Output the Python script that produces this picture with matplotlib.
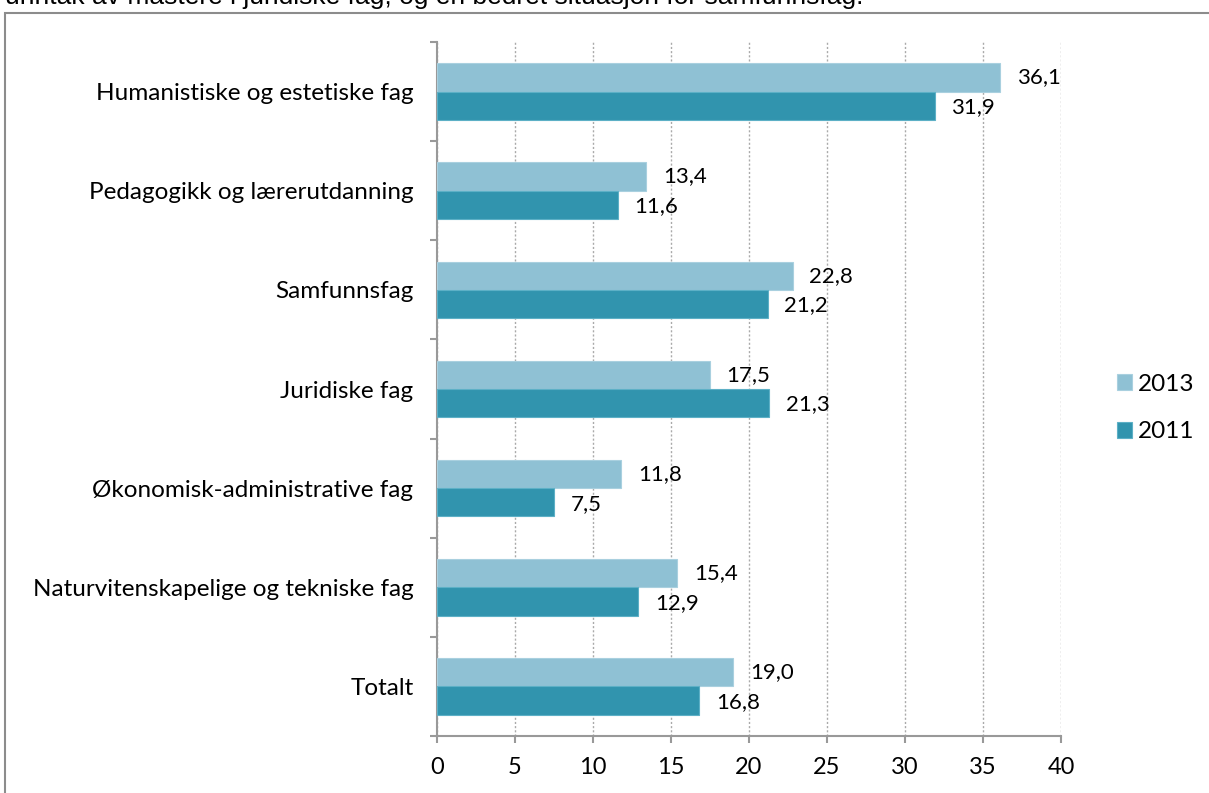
import matplotlib
matplotlib.use("Agg")
import matplotlib.pyplot as plt
from matplotlib.patches import Rectangle
import numpy as np

categories = ["Humanistiske og estetiske fag", "Pedagogikk og lærerutdanning", "Samfunnsfag",
              "Juridiske fag", "Økonomisk-administrative fag",
              "Naturvitenskapelige og tekniske fag", "Totalt"]
v2013 = [36.1, 13.4, 22.8, 17.5, 11.8, 15.4, 19.0]
v2011 = [31.9, 11.6, 21.2, 21.3, 7.5, 12.9, 16.8]
xticks = [0, 5, 10, 15, 20, 25, 30, 35, 40]

plt.rcParams['font.family'] = ['Lato', 'DejaVu Sans']

W, H = 1209, 793
fig = plt.figure(figsize=(W / 100, H / 100), dpi=100)
ax = fig.add_axes([437 / W, 1 - 736 / H, (1061 - 437) / W, (736 - 42) / H])

c13 = "#8FC1D4"
c11 = "#3194AE"
y = np.arange(len(categories))
bh = 0.285
ax.barh(y - bh / 2, v2013, height=bh, color=c13, edgecolor="#A9D0DF", linewidth=0.8, label="2013", zorder=3)
ax.barh(y + bh / 2, v2011, height=bh, color=c11, edgecolor="#5DB0C6", linewidth=0.8, label="2011", zorder=3)

for i, (a, b) in enumerate(zip(v2013, v2011)):
    ax.annotate(f"{a:.1f}".replace(".", ","), (a, i - bh / 2), xytext=(12, 0), textcoords="offset points",
                va="center", ha="left", fontsize=16, color="black")
    ax.annotate(f"{b:.1f}".replace(".", ","), (b, i + bh / 2), xytext=(12, -1), textcoords="offset points",
                va="center", ha="left", fontsize=16, color="black")

ax.set_xlim(0, 40)
ax.set_ylim(len(categories) - 0.5, -0.5)
ax.set_xticks(xticks)
ax.set_xticklabels([str(t) for t in xticks], fontsize=17)
ax.set_yticks(y)
ax.set_yticklabels(categories, fontsize=17.5)
ax.tick_params(axis="y", which="major", length=0, pad=17)
ax.set_yticks(np.arange(-0.5, len(categories) + 0.5, 1), minor=True)
ax.tick_params(axis="y", which="minor", length=5, color="#999999", width=1.5, direction="out")
ax.tick_params(axis="x", which="major", length=5, color="#999999", width=1.5, direction="out", pad=10)
ax.grid(axis="x", linestyle=(0, (1.5, 1.5)), color="#AAAAAA", linewidth=1, zorder=0)
for s in ["top", "right"]:
    ax.spines[s].set_visible(False)
for s in ["left", "bottom"]:
    ax.spines[s].set_color("#999999")
    ax.spines[s].set_linewidth(1.5)

leg = fig.legend(loc="center left", bbox_to_anchor=(1105 / W, 1 - 408 / H), frameon=False, fontsize=17.5,
                 handlelength=0.6, handleheight=0.6, handletextpad=0.25, labelspacing=1.1, borderpad=0)

# outer frame
fig.patches.append(Rectangle((5 / W, -0.05), 1.1, 1 - 13 / H + 0.05, transform=fig.transFigure,
                             fill=False, edgecolor="#8C8C8C", linewidth=1.5))
fig.text(5 / W, 1 - 4 / H, "unntak av mastere i juridiske fag, og en bedret situasjon for samfunnsfag.",
         family=["Liberation Sans"], fontsize=19, va="baseline", ha="left")

fig.savefig("out.png", dpi=100)
